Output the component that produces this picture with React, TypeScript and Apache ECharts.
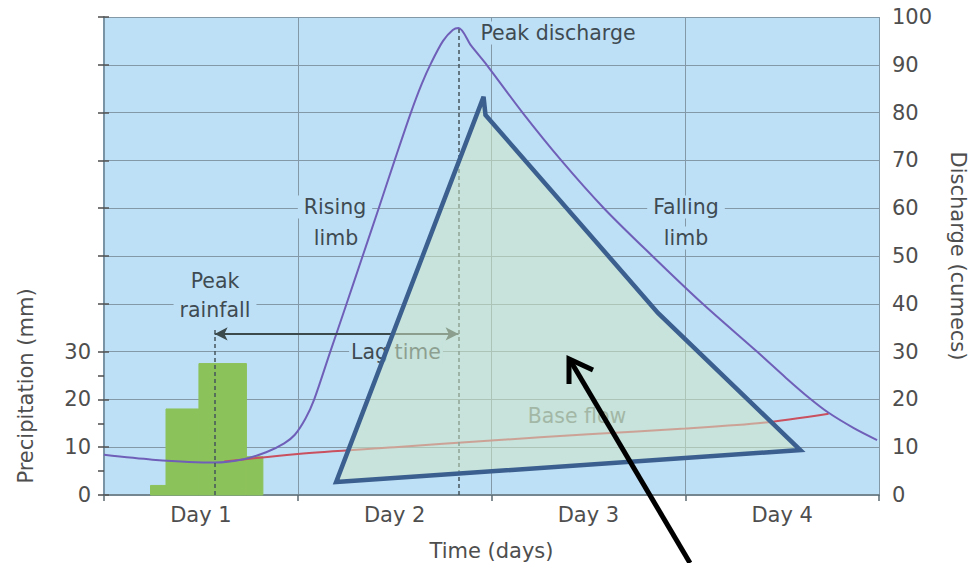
import React, { useEffect, useRef } from "react";
import * as echarts from "echarts";

// ---- data ----
const dayLabels = ["Day 1", "Day 2", "Day 3", "Day 4"];
const leftTickValues = [0, 5, 10, 15, 20, 25, 30, 40, 50, 60, 70, 80, 90, 100];
const leftLabelValues = [0, 10, 20, 30];

const precipStart = [0.24, 0.32, 0.49, 0.735];
const precipEnd = [0.32, 0.49, 0.735, 0.82];
const precipValue = [2, 18, 27.5, 8];

const dischargeTime = [0, 0.25, 0.571, 0.72, 0.84, 0.93, 0.985, 1.04, 1.085, 1.168, 1.252, 1.335, 1.418, 1.5, 1.584, 1.64, 1.69, 1.75, 1.8, 1.83, 1.895, 1.975, 2.16, 2.36, 2.58, 2.83, 3.09, 3.37, 3.52, 3.64, 3.74, 3.87, 3.99];
const dischargeValue = [8.4, 7.4, 6.8, 7.5, 9, 10.8, 12.6, 16, 20, 30, 40, 50, 60, 70, 80, 86, 90.5, 95, 97.3, 97.7, 94, 90, 80, 70, 60, 50, 40, 30, 24.5, 20.3, 17.2, 14, 11.5];

const baseTime = [0.62, 1.0, 1.5, 2.0, 2.5, 3.0, 3.4, 3.74];
const baseValue = [7.0, 8.6, 10.0, 11.4, 12.7, 13.9, 15.1, 17.0];

const peakRainfallTime = 0.571;
const peakRainfallMarkTop = 35;
const peakDischargeTime = 1.83;
const peakDischargeValue = 97.7;
const lagLevel = 33.7;

const triangleX = [1.198, 1.959, 1.969, 2.859, 3.594];
const triangleY = [2.7, 83.3, 79.5, 38.1, 9.4];

const FONT = '"DejaVu Sans", Verdana, sans-serif';
const TEXT = "#3f4b52";
const AXIS_TEXT = "#4e4e4e";
const BG = "#bee0f6";
const GRID = "#8499a8";

export default function App() {
  const ref = useRef<HTMLDivElement>(null);
  useEffect(() => {
    if (!ref.current) return;
    const chart = echarts.init(ref.current, null, { renderer: "svg" });

    const label = (text: string, x: number, y: number, extra: any = {}) => ({
      type: "text",
      z: 1,
      style: {
        text,
        x,
        y,
        align: "center",
        verticalAlign: "middle",
        fill: TEXT,
        fontSize: 20.5,
        fontFamily: FONT,
        backgroundColor: BG,
        padding: [1, 6],
        ...extra,
      },
    });

    const option: any = {
      animation: false,
      textStyle: { fontFamily: FONT },
      grid: {
        left: 104,
        right: 94,
        top: 17,
        bottom: 76,
        show: true,
        backgroundColor: BG,
        borderWidth: 0,
      },
      xAxis: [
        {
          type: "value",
          min: 0,
          max: 4,
          interval: 1,
          position: "bottom",
          axisLine: { show: true, lineStyle: { color: "#74868f", width: 2 } },
          axisTick: { show: true, length: 6, lineStyle: { color: "#5b6a72", width: 1.5 } },
          axisLabel: { show: false },
          splitLine: { show: true, lineStyle: { color: GRID, width: 1 } },
        },
        {
          type: "value",
          min: 0,
          max: 4,
          interval: 0.5,
          position: "bottom",
          axisLine: { show: false },
          axisTick: { show: false },
          splitLine: { show: false },
          axisLabel: {
            show: true,
            margin: 9,
            fontSize: 21,
            color: AXIS_TEXT,
            fontFamily: FONT,
            formatter: (v: number) => {
              const r = Math.round(v * 2);
              return r % 2 === 1 ? dayLabels[(r - 1) / 2] : "";
            },
          },
          name: "Time (days)",
          nameLocation: "middle",
          nameGap: 45,
          nameTextStyle: { fontSize: 21, color: AXIS_TEXT, fontFamily: FONT },
        },
      ],
      yAxis: [
        {
          type: "value",
          min: 0,
          max: 100,
          interval: 10,
          position: "left",
          axisLine: { show: true, lineStyle: { color: "#7a93a5", width: 2 } },
          axisTick: {
            show: true,
            length: 6,
            customValues: leftTickValues,
            lineStyle: { color: "#4d4d4d", width: 1.5 },
          },
          axisLabel: {
            show: true,
            customValues: leftLabelValues,
            margin: 13,
            fontSize: 21,
            color: AXIS_TEXT,
            fontFamily: FONT,
          },
          splitLine: { show: false },
        },
        {
          type: "value",
          min: 0,
          max: 100,
          interval: 10,
          position: "right",
          axisLine: { show: false },
          axisTick: { show: true, length: 5, lineStyle: { color: "#555", width: 1.5 } },
          axisLabel: { show: true, margin: 13, fontSize: 21, color: AXIS_TEXT, fontFamily: FONT },
          splitLine: { show: true, lineStyle: { color: GRID, width: 1 } },
          name: "Discharge (cumecs)",
          nameLocation: "middle",
          nameRotate: -90,
          nameGap: 68,
          nameTextStyle: { fontSize: 21, color: AXIS_TEXT, fontFamily: FONT },
        },
      ],
      series: [
        {
          type: "custom",
          name: "Precipitation",
          xAxisIndex: 0,
          yAxisIndex: 0,
          z: 2,
          encode: { x: [0, 1], y: 2 },
          data: precipValue.map((v, i) => [precipStart[i], precipEnd[i], v]),
          renderItem: (params: any, api: any) => {
            const p0 = api.coord([api.value(0), api.value(2)]);
            const p1 = api.coord([api.value(1), 0]);
            return {
              type: "rect",
              shape: { x: p0[0], y: p0[1], width: p1[0] - p0[0], height: p1[1] - p0[1] },
              style: { fill: "#8cc25a", stroke: "#8cc25a", lineWidth: 1 },
            };
          },
        },
        {
          type: "line",
          name: "Base flow",
          xAxisIndex: 0,
          yAxisIndex: 1,
          z: 3,
          symbol: "none",
          smooth: 0.3,
          lineStyle: { color: "#c9505e", width: 2 },
          data: baseTime.map((t, i) => [t, baseValue[i]]),
          markLine: {
            silent: true,
            symbol: ["arrow", "arrow"],
            symbolSize: [10, 13],
            label: { show: false },
            lineStyle: { color: "#3c4a4c", width: 2, type: "solid" },
            data: [[{ coord: [peakRainfallTime, lagLevel] }, { coord: [peakDischargeTime, lagLevel] }]],
          },
        },
        {
          type: "line",
          name: "Discharge",
          xAxisIndex: 0,
          yAxisIndex: 1,
          z: 4,
          symbol: "none",
          smooth: 0.3,
          lineStyle: { color: "#6f5fb8", width: 2 },
          data: dischargeTime.map((t, i) => [t, dischargeValue[i]]),
          markLine: {
            silent: true,
            symbol: ["none", "none"],
            label: { show: false },
            lineStyle: { color: "#44545c", width: 1.5, type: [4, 3] },
            data: [
              [{ coord: [peakRainfallTime, 0] }, { coord: [peakRainfallTime, peakRainfallMarkTop] }],
              [{ coord: [peakDischargeTime, 0] }, { coord: [peakDischargeTime, peakDischargeValue] }],
            ],
          },
        },
        {
          type: "custom",
          name: "Triangle",
          xAxisIndex: 0,
          yAxisIndex: 1,
          z: 5,
          clip: false,
          data: [[triangleX[0], triangleY[0]]],
          renderItem: (params: any, api: any) => {
            const pts = triangleX.map((x, i) => api.coord([x, triangleY[i]]));
            return {
              type: "polygon",
              shape: { points: pts },
              style: {
                fill: "rgba(206,229,196,0.55)",
                stroke: "#3b5f8f",
                lineWidth: 4.5,
                lineJoin: "miter",
              },
            };
          },
        },
      ],
      graphic: [
        label("Peak discharge", 558, 33),
        label("Rising", 335, 207),
        label("limb", 336, 238),
        label("Falling", 686, 207),
        label("limb", 686, 238),
        label("Peak", 215, 281),
        label("rainfall", 215, 310),
        label("Lag time", 396, 352, { padding: [0, 2] }),
        label("Base flow", 577, 416, { fill: "#6f7e80", backgroundColor: "transparent" }),
        {
          type: "text",
          z: 1,
          rotation: Math.PI / 2,
          x: 26,
          y: 386,
          style: {
            text: "Precipitation (mm)",
            x: 0,
            y: 0,
            align: "center",
            verticalAlign: "middle",
            fill: AXIS_TEXT,
            fontSize: 21,
            fontFamily: FONT,
          },
        },
        {
          type: "line",
          z: 10,
          shape: { x1: 690, y1: 563, x2: 570, y2: 360 },
          style: { stroke: "#000", lineWidth: 5 },
        },
        {
          type: "polyline",
          z: 10,
          shape: { points: [[593, 370], [569, 359], [569, 384]] },
          style: { stroke: "#000", lineWidth: 5, fill: null, lineJoin: "miter" },
        },
      ],
    };

    chart.setOption(option);
    return () => chart.dispose();
  }, []);

  return <div ref={ref} style={{ width: 976, height: 571, margin: -8 }} />;
}
